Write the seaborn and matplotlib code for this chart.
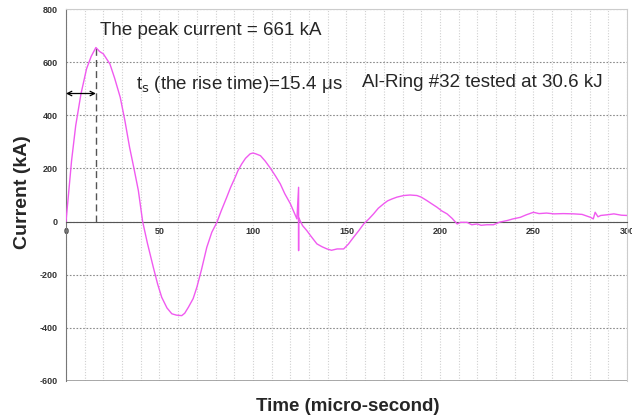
import numpy as np
import pandas as pd
import seaborn as sns
import matplotlib.pyplot as plt

time = [0, 1.2, 3, 5.2, 8, 11, 13.5, 16, 18, 20, 23.5, 26, 29, 31.5, 34, 36.5, 38.7,
        41, 43.5, 46.7, 49, 51.2, 54, 56.6, 59, 61.9, 63.5, 65.5, 68, 70, 72.5, 75.3,
        78, 80.7, 83, 86, 88, 90.5, 92, 94, 96, 98.5, 100, 101.5, 104, 106.5, 109,
        112, 114.6, 117, 120, 123.5, 124.4, 124.4, 124.4, 126.5, 128.8, 131, 134.2,
        137, 139.6, 142, 145, 148.5, 151, 153.8, 156.5, 159.2, 162, 164.5, 167,
        169.9, 172, 174.3, 177, 180.6, 184, 187.7, 190, 193, 196, 198.4, 201, 203.8,
        206.5, 209.2, 211, 214.5, 217, 219.9, 222, 225, 228.6, 232, 236, 239, 243,
        246, 250, 253, 257, 261, 266, 271.6, 276, 280.5, 282, 283, 284.5, 286, 290,
        293, 297, 300]
current = [0, 91, 230, 361, 480, 575, 622, 655, 640, 631, 593, 540, 468, 380, 280,
           195, 117, 0, -80, -172, -235, -285, -325, -347, -352, -354, -345, -322,
           -290, -247, -180, -97, -40, -3, 40, 92, 128, 167, 192, 217, 238, 255,
           258, 255, 248, 228, 204, 172, 142, 105, 67, 10, 129, -109, 15, -15, -34,
           -55, -84, -95, -103, -108, -103, -103, -85, -59, -35, -9, 10, 29, 50, 67,
           78, 85, 92, 98, 100, 98, 92, 79, 65, 54, 40, 29, 12, -9, -3, -3, -12,
           -9, -14, -12, -12, -2, 4, 10, 16, 25, 35, 30, 32, 29, 30, 29, 27, 16,
           10, 35, 18, 23, 26, 29, 24, 23]

peak_label = "The peak current = 661 kA"
rise_label = "t$_\\mathrm{s}$ (the rise time)=15.4 μs"
test_label = "Al-Ring #32 tested at 30.6 kJ"

df = pd.DataFrame({"time": time, "current": current})

sns.set_style("white")
plt.rcParams['font.family'] = ['Liberation Sans', 'DejaVu Sans']
plt.rcParams['axes.unicode_minus'] = False

fig = plt.figure(figsize=(6.32, 4.19), dpi=100)
ax = fig.add_axes([0.1044, 0.0907, 0.8876, 0.8878])

sns.lineplot(data=df, x="time", y="current", color="#f05af0", lw=1.0,
             estimator=None, sort=False, ax=ax, zorder=3)

ax.set_xlim(0, 300)
ax.set_ylim(-600, 800)
ax.set_yticks(range(-600, 801, 200))
ax.set_xticks(range(0, 301, 50))
ax.set_xticks(range(0, 301, 10), minor=True)

ax.yaxis.grid(True, which='major', ls=(0, (1.5, 1.5)), color='#8c8c8c', lw=0.8)
ax.xaxis.grid(True, which='both', ls=(0, (1, 1.5)), color='#d0d0d0', lw=0.8)
ax.set_axisbelow(True)

# frame: x axis crosses at zero, box around the plot area
ax.spines['bottom'].set_position(('data', 0))
ax.spines['bottom'].set_color('#555555')
ax.spines['left'].set_color('#777777')
ax.spines['top'].set_color('#cccccc')
ax.spines['right'].set_color('#cccccc')
ax.axhline(-600, color='#999999', lw=1.2, zorder=2)

ax.tick_params(axis='x', which='major', direction='in', length=3, pad=4,
               labelsize=6.5, colors='#333333')
ax.tick_params(axis='x', which='minor', length=0)
ax.tick_params(axis='y', direction='out', length=3, pad=3, labelsize=6.5,
               colors='#333333')
for lab in ax.get_xticklabels() + ax.get_yticklabels():
    lab.set_fontweight('bold')

ax.set_xlabel("Time (micro-second)", fontsize=13.5, fontweight='bold')
ax.set_ylabel("Current (kA)", fontsize=14, fontweight='bold')
ax.xaxis.set_label_coords(0.503, -0.045)
ax.yaxis.set_label_coords(-0.062, 0.509)

# rise time markers from the trace peak
ipk = int(np.argmax(current))
t_pk, i_pk = time[ipk], current[ipk]
ax.plot([t_pk, t_pk], [0, i_pk], ls=(0, (5, 3)), color='#555555', lw=1, zorder=2)
ax.annotate("", xy=(0, 482), xytext=(t_pk, 482),
            arrowprops=dict(arrowstyle='<->', color='black', lw=0.9,
                            mutation_scale=8, shrinkA=0, shrinkB=0))

ax.text(18, 719, peak_label, fontsize=13.5, va='center')
ax.text(37.5, 516, rise_label, fontsize=13.5, va='center')
ax.text(158.5, 523, test_label, fontsize=13.5, va='center')

fig.savefig("out.png", dpi=100)
